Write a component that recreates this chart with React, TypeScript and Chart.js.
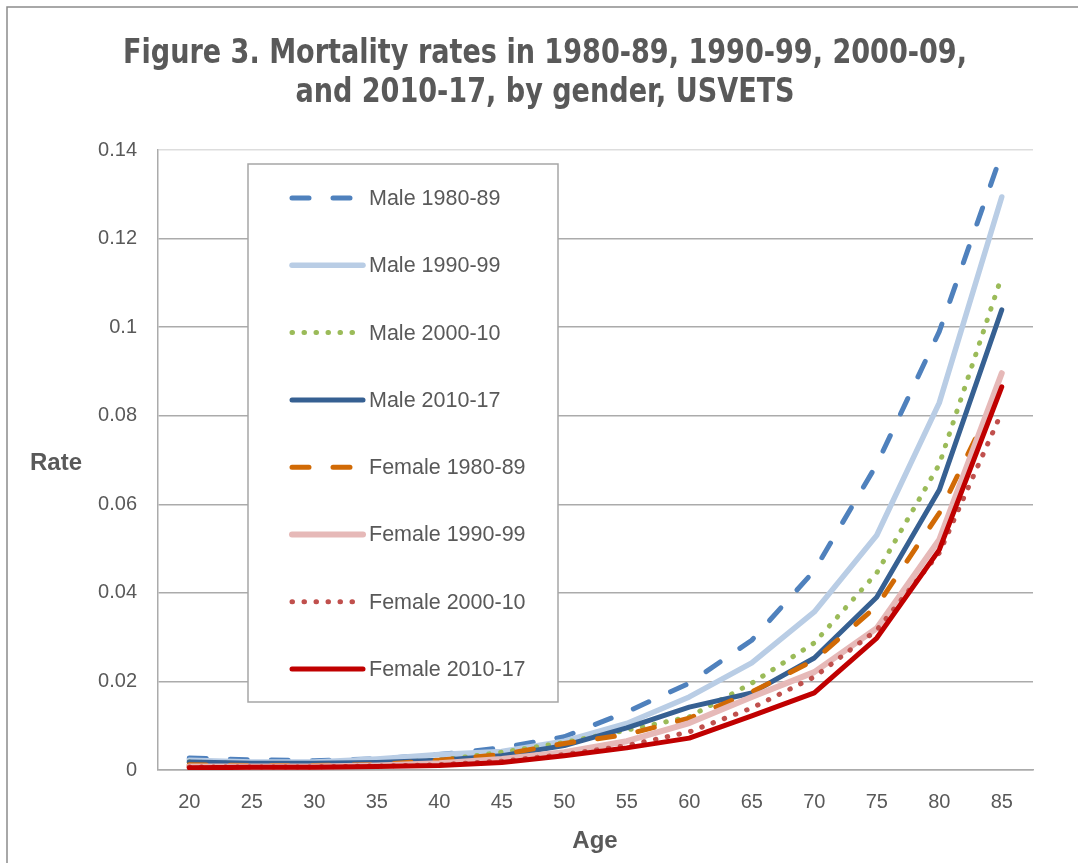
import React, { useEffect, useRef } from 'react';
import { Chart, registerables } from 'chart.js';

Chart.register(...registerables);

const ages = ['20', '25', '30', '35', '40', '45', '50', '55', '60', '65', '70', '75', '80', '85'];

const male1980 = [0.0027, 0.0023, 0.0021, 0.0025, 0.0035, 0.005, 0.0075, 0.0131, 0.0196, 0.0293, 0.045, 0.069, 0.099, 0.1393];
const male1990 = [0.0022, 0.0018, 0.0018, 0.0025, 0.0035, 0.0042, 0.0065, 0.0105, 0.0165, 0.0242, 0.0357, 0.053, 0.0829, 0.1294];
const male2000 = [0.0018, 0.0014, 0.0013, 0.0015, 0.0022, 0.004, 0.0062, 0.009, 0.012, 0.0196, 0.0287, 0.0445, 0.069, 0.1115];
const male2010 = [0.0018, 0.0015, 0.0015, 0.0017, 0.0022, 0.0032, 0.0055, 0.0095, 0.0142, 0.0174, 0.0253, 0.039, 0.0632, 0.1039];
const female1980 = [0.0012, 0.001, 0.001, 0.0012, 0.0022, 0.0035, 0.006, 0.008, 0.0117, 0.0176, 0.0248, 0.037, 0.058, 0.087];
const female1990 = [0.0008, 0.0008, 0.0008, 0.001, 0.0015, 0.0025, 0.004, 0.0065, 0.0106, 0.0165, 0.0221, 0.032, 0.052, 0.0896];
const female2000 = [0.0007, 0.0007, 0.0007, 0.0009, 0.0012, 0.002, 0.0035, 0.0055, 0.0086, 0.014, 0.021, 0.0316, 0.049, 0.0808];
const female2010 = [0.0005, 0.0006, 0.0006, 0.0008, 0.001, 0.0017, 0.0032, 0.005, 0.0072, 0.0122, 0.0174, 0.0298, 0.0497, 0.0865];

const seriesLabels = [
  'Male 1980-89',
  'Male 1990-99',
  'Male 2000-10',
  'Male 2010-17',
  'Female 1980-89',
  'Female 1990-99',
  'Female 2000-10',
  'Female 2010-17',
];

const yTickLabels = ['0', '0.02', '0.04', '0.06', '0.08', '0.1', '0.12', '0.14'];

const titleLines = [
  'Figure 3. Mortality rates in 1980-89, 1990-99, 2000-09,',
  'and 2010-17, by gender, USVETS',
];
const xAxisTitle = 'Age';
const yAxisTitle = 'Rate';

const DASH = [17, 24];
const DOT = [0.5, 11.5];

const styles = [
  { color: '#4F81BD', dash: DASH, width: 5 },
  { color: '#B9CDE5', dash: [], width: 5.5 },
  { color: '#9BBB59', dash: DOT, width: 5 },
  { color: '#366092', dash: [], width: 5 },
  { color: '#D16A05', dash: DASH, width: 5 },
  { color: '#E6B9B8', dash: [], width: 6 },
  { color: '#C0504D', dash: DOT, width: 5 },
  { color: '#C00000', dash: [], width: 5 },
];

const seriesData = [male1980, male1990, male2000, male2010, female1980, female1990, female2000, female2010];

const TEXT = '#595959';
const GRID = '#ABABAB';

const decorPlugin = {
  id: 'decor',
  beforeDraw(chart: any) {
    const ctx = chart.ctx;
    ctx.save();
    ctx.fillStyle = '#FFFFFF';
    ctx.fillRect(0, 0, chart.width, chart.height);
    ctx.strokeStyle = '#8C8C8C';
    ctx.lineWidth = 1.5;
    ctx.beginPath();
    ctx.moveTo(7, chart.height);
    ctx.lineTo(7, 7);
    ctx.lineTo(chart.width, 7);
    ctx.stroke();
    ctx.restore();
  },
  afterDatasetsDraw(chart: any) {
    const ctx = chart.ctx;
    ctx.save();
    const bx = 248, by = 164, bw = 310, bh = 538;
    ctx.fillStyle = '#FFFFFF';
    ctx.fillRect(bx, by, bw, bh);
    ctx.strokeStyle = '#A6A6A6';
    ctx.lineWidth = 1.5;
    ctx.strokeRect(bx, by, bw, bh);
    const ds = chart.data.datasets;
    ds.forEach((d: any, i: number) => {
      const y = 198 + i * 67.3;
      ctx.beginPath();
      ctx.setLineDash(d.borderDash || []);
      ctx.lineCap = 'round';
      ctx.strokeStyle = d.borderColor;
      ctx.lineWidth = d.borderWidth;
      ctx.moveTo(292, y);
      ctx.lineTo(363, y);
      ctx.stroke();
      ctx.setLineDash([]);
      ctx.fillStyle = TEXT;
      ctx.font = '21.5px "Liberation Sans", Arial, sans-serif';
      ctx.textAlign = 'left';
      ctx.textBaseline = 'middle';
      ctx.fillText(d.label, 369, y + 1);
    });
    ctx.restore();
  },
  afterDraw(chart: any) {
    const ctx = chart.ctx;
    ctx.save();
    ctx.fillStyle = TEXT;
    ctx.textAlign = 'center';
    ctx.textBaseline = 'alphabetic';
    ctx.font = 'bold 34px "DejaVu Sans Condensed", "Liberation Sans", sans-serif';
    const w0 = ctx.measureText(titleLines[0]).width;
    const sx = w0 > 0 ? 844 / w0 : 1;
    ctx.save();
    ctx.translate(545, 0);
    ctx.scale(sx, 1);
    ctx.fillText(titleLines[0], 0, 63);
    ctx.fillText(titleLines[1], 0, 102);
    ctx.restore();
    ctx.font = 'bold 24px "Liberation Sans", Arial, sans-serif';
    ctx.textBaseline = 'middle';
    ctx.textAlign = 'left';
    ctx.fillText(yAxisTitle, 30, 463);
    ctx.textAlign = 'center';
    ctx.fillText(xAxisTitle, 595, 841);
    ctx.restore();
  },
};

export default function App() {
  const ref = useRef<HTMLCanvasElement | null>(null);
  useEffect(() => {
    if (!ref.current) return;
    const chart = new Chart(ref.current, {
      type: 'line',
      data: {
        labels: ages,
        datasets: seriesData.map((vals, i) => ({
          label: seriesLabels[i],
          data: vals,
          borderColor: styles[i].color,
          backgroundColor: styles[i].color,
          borderWidth: styles[i].width,
          borderDash: styles[i].dash,
          borderCapStyle: 'round',
          borderJoinStyle: 'round',
          pointRadius: 0,
          tension: 0,
          fill: false,
          order: seriesData.length - i,
        })) as any,
      },
      options: {
        animation: false,
        responsive: false,
        devicePixelRatio: 1,
        layout: { padding: { left: 0, right: 45, top: 150, bottom: 0 } },
        plugins: {
          legend: { display: false },
          title: { display: false },
          tooltip: { enabled: false },
        },
        scales: {
          x: {
            type: 'category',
            offset: true,
            grid: { display: true, color: 'rgba(0,0,0,0)', drawTicks: false },
            border: { display: true, color: GRID, width: 1.5 },
            ticks: {
              color: TEXT,
              font: { family: '"Liberation Sans", Arial, sans-serif', size: 20 },
              padding: 20,
              maxRotation: 0,
              autoSkip: false,
            },
            afterFit(scale: any) {
              scale.height = 93;
            },
          },
          y: {
            min: 0,
            max: 0.14,
            ticks: {
              stepSize: 0.02,
              color: TEXT,
              font: { family: '"Liberation Sans", Arial, sans-serif', size: 20 },
              padding: 21,
              callback: (_v: any, idx: number) => yTickLabels[idx],
            },
            grid: {
              drawTicks: false,
              lineWidth: 1.5,
              color: (c: any) => (c.index === yTickLabels.length - 1 ? '#DDDDDD' : GRID),
            },
            border: { display: true, color: GRID, width: 1.5 },
            afterFit(scale: any) {
              scale.width = 158;
            },
          },
        },
      } as any,
      plugins: [decorPlugin],
    });
    return () => chart.destroy();
  }, []);
  return (
    <div style={{ position: 'absolute', left: 0, top: 0, width: 1078, height: 863 }}>
      <canvas ref={ref} width={1078} height={863} style={{ width: 1078, height: 863 }} />
    </div>
  );
}
